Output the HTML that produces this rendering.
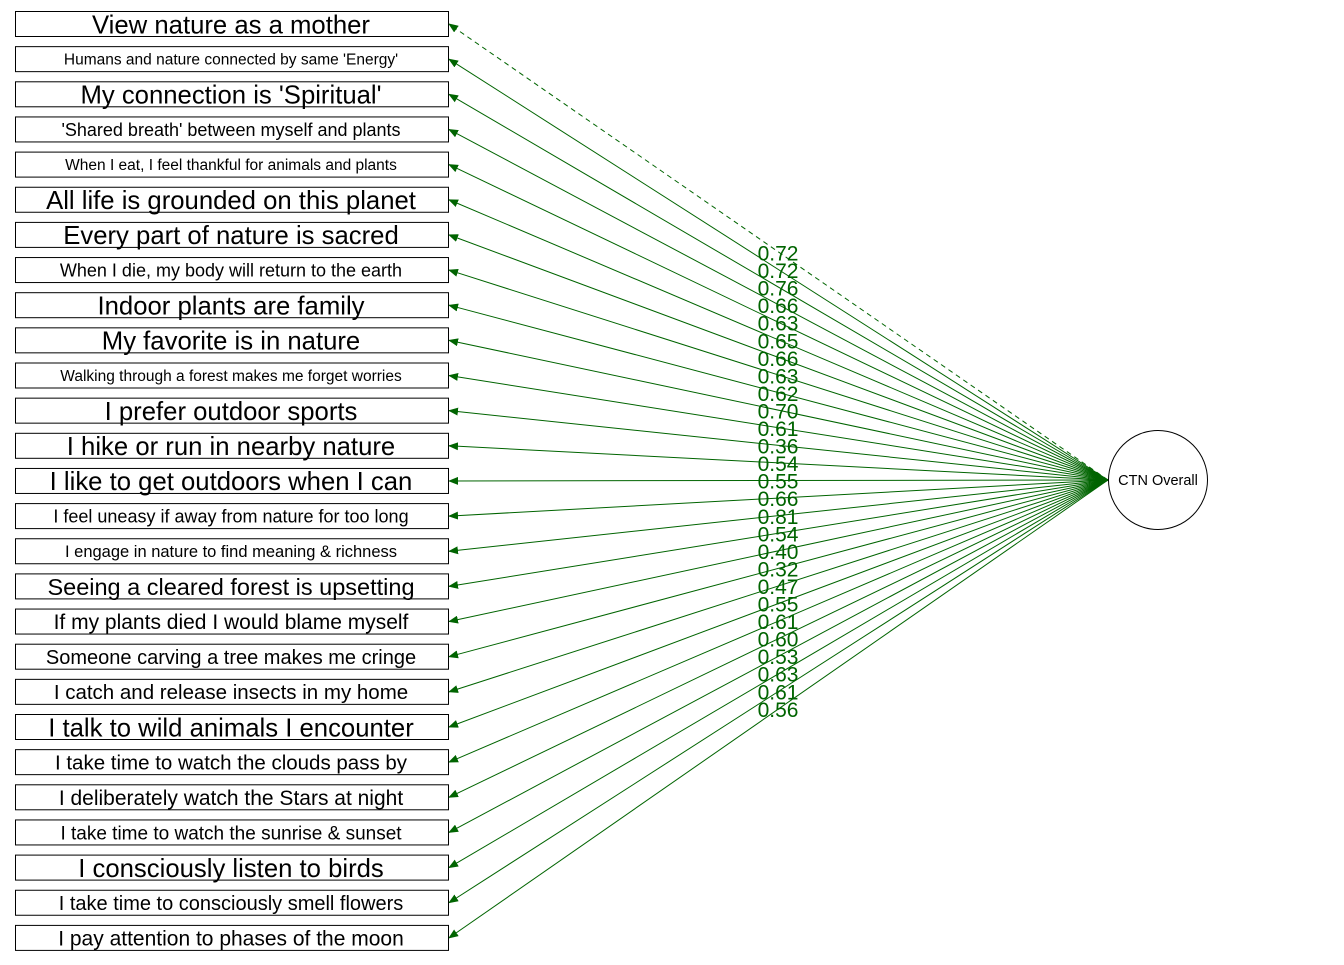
<!DOCTYPE html>
<html><head><meta charset="utf-8"><style>
body{margin:0;background:#fff;}
text{font-family:"Liberation Sans",Arial,sans-serif;}
</style></head><body>
<svg width="1344" height="960" xmlns="http://www.w3.org/2000/svg">
<defs><marker id="a" markerWidth="10" markerHeight="8" refX="9" refY="4" orient="auto" markerUnits="userSpaceOnUse"><path d="M0,0 L10,4 L0,8 z" fill="#006400"/></marker></defs>
<g id="g"></g>
</svg>
<script>
var items=[["View nature as a mother",25.7],["Humans and nature connected by same 'Energy'",15.5],["My connection is 'Spiritual'",25.7],["'Shared breath' between myself and plants",18],["When I eat, I feel thankful for animals and plants",15.5],["All life is grounded on this planet",25.7],["Every part of nature is sacred",25.7],["When I die, my body will return to the earth",18],["Indoor plants are family",25.7],["My favorite is in nature",25.7],["Walking through a forest makes me forget worries",15.5],["I prefer outdoor sports",25.7],["I hike or run in nearby nature",25.7],["I like to get outdoors when I can",25.7],["I feel uneasy if away from nature for too long",18],["I engage in nature to find meaning & richness",16.5],["Seeing a cleared forest is upsetting",23.5],["If my plants died I would blame myself",21],["Someone carving a tree makes me cringe",20],["I catch and release insects in my home",20.5],["I talk to wild animals I encounter",25.7],["I take time to watch the clouds pass by",20.5],["I deliberately watch the Stars at night",21],["I take time to watch the sunrise & sunset",19],["I consciously listen to birds",25.7],["I take time to consciously smell flowers",20],["I pay attention to phases of the moon",21]];
var vals=["0.72","0.72","0.76","0.66","0.63","0.65","0.66","0.63","0.62","0.70","0.61","0.36","0.54","0.55","0.66","0.81","0.54","0.40","0.32","0.47","0.55","0.61","0.60","0.53","0.63","0.61","0.56"];
var s="";
for(var i=0;i<27;i++){var cy=24+i*35.15;var fs=items[i][1];
s+='<line x1="1108" y1="480" x2="449" y2="'+cy+'" stroke="#006400" stroke-width="1"'+(i==0?' stroke-dasharray="5,4"':'')+' marker-end="url(#a)"/>';
s+='<rect x="15.5" y="'+(cy-12.5)+'" width="433" height="25" fill="#fff" stroke="#000" stroke-width="1"/>';
s+='<text x="231" y="'+(cy+fs*0.36)+'" font-size="'+fs+'" text-anchor="middle">'+items[i][0].replace(/&/g,'&amp;')+'</text>';}
for(var i=0;i<27;i++){var y=253+i*17.55;
s+='<text x="778" y="'+(y+7.5)+'" font-size="21" fill="#006400" text-anchor="middle">'+vals[i]+'</text>';}
s+='<circle cx="1158" cy="480" r="49.5" fill="#fff" stroke="#000"/><text x="1158" y="485" font-size="14.5" text-anchor="middle">CTN Overall</text>';
document.getElementById('g').innerHTML=s;
</script>
</body></html>
